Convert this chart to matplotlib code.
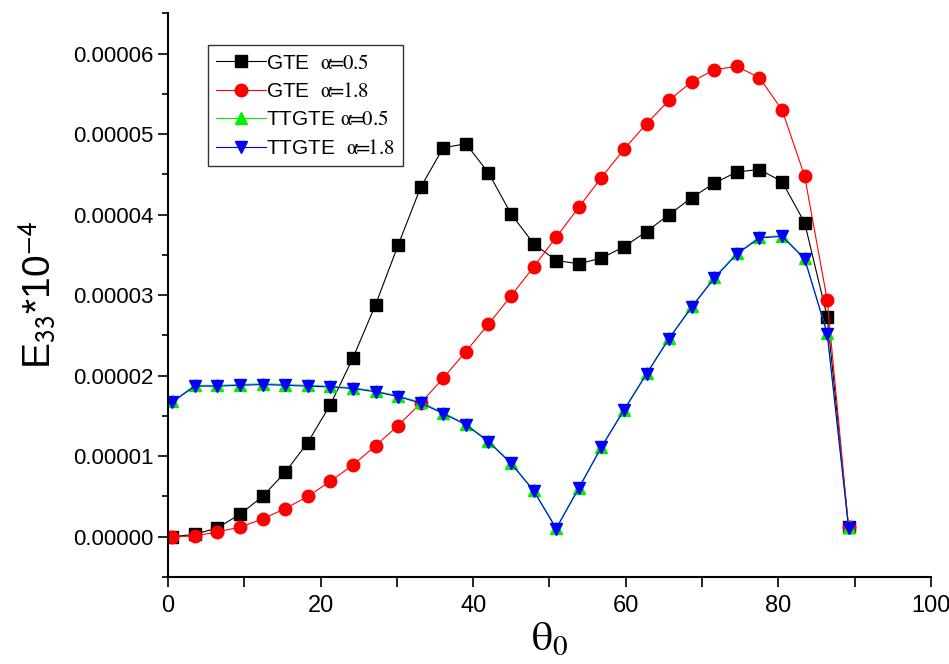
import matplotlib
matplotlib.use("Agg")
import matplotlib.pyplot as plt
from matplotlib.ticker import MultipleLocator, FormatStrFormatter

plt.rcParams['mathtext.fontset'] = 'stix'

# theta_0 in degrees
theta = [0.56, 3.52, 6.48, 9.44, 12.4, 15.36, 18.32, 21.28, 24.24, 27.2,
         30.16, 33.12, 36.08, 39.04, 42.0, 44.96, 47.92, 50.88, 53.84, 56.8,
         59.76, 62.72, 65.68, 68.64, 71.6, 74.56, 77.52, 80.48, 83.44, 86.4,
         89.2]

gte_05 = [0.00, 0.03, 0.11, 0.28, 0.50, 0.80, 1.17, 1.64, 2.22, 2.88,
          3.62, 4.34, 4.83, 4.88, 4.52, 4.01, 3.64, 3.43, 3.39, 3.46,
          3.60, 3.79, 4.00, 4.21, 4.39, 4.53, 4.56, 4.41, 3.90, 2.73,
          0.12]
gte_18 = [0.00, 0.01, 0.06, 0.12, 0.22, 0.35, 0.50, 0.69, 0.89, 1.13,
          1.38, 1.66, 1.97, 2.30, 2.64, 2.99, 3.35, 3.72, 4.09, 4.46,
          4.81, 5.13, 5.42, 5.65, 5.80, 5.84, 5.70, 5.30, 4.48, 2.94,
          0.12]
ttgte_05 = [1.68, 1.88, 1.88, 1.89, 1.90, 1.89, 1.88, 1.87, 1.85, 1.81,
            1.75, 1.67, 1.54, 1.40, 1.19, 0.92, 0.58, 0.11, 0.61, 1.12,
            1.58, 2.03, 2.47, 2.86, 3.22, 3.52, 3.72, 3.74, 3.46, 2.53,
            0.12]
ttgte_18 = [1.67, 1.87, 1.87, 1.88, 1.89, 1.88, 1.87, 1.86, 1.84, 1.80,
            1.74, 1.66, 1.53, 1.39, 1.18, 0.91, 0.57, 0.10, 0.60, 1.11,
            1.57, 2.02, 2.46, 2.85, 3.21, 3.51, 3.71, 3.73, 3.45, 2.52,
            0.11]

scale = 1e-5

fig = plt.figure(figsize=(9.49, 6.64), dpi=100)
ax = fig.add_axes([0.177, 0.131, 0.804, 0.849])

ax.plot(theta, [v * scale for v in gte_05], '-s', color='black', lw=0.8,
        ms=8, label='GTE  $\\mathrm{\\alpha}\\!\\!=\\!\\!\\mathrm{0.5}$')
ax.plot(theta, [v * scale for v in gte_18], '-o', color='red', lw=0.8,
        ms=9, label='GTE  $\\mathrm{\\alpha}\\!\\!=\\!\\!\\mathrm{1.8}$')
ax.plot(theta, [v * scale for v in ttgte_05], '-^', color='#00ee00', lw=0.8,
        ms=9, label='TTGTE $\\mathrm{\\alpha}\\!\\!=\\!\\!\\mathrm{0.5}$')
ax.plot(theta, [v * scale for v in ttgte_18], '-v', color='blue', lw=0.8,
        ms=9, label='TTGTE  $\\mathrm{\\alpha}\\!\\!=\\!\\!\\mathrm{1.8}$')

ax.set_xlim(0, 100)
ax.set_ylim(-0.000005, 0.000065)
ax.xaxis.set_major_locator(MultipleLocator(20))
ax.xaxis.set_minor_locator(MultipleLocator(10))
ax.yaxis.set_major_locator(MultipleLocator(0.00001))
ax.yaxis.set_minor_locator(MultipleLocator(0.000005))
ax.yaxis.set_major_formatter(FormatStrFormatter('%.5f'))

for s in ['top', 'right']:
    ax.spines[s].set_visible(False)
for s in ['left', 'bottom']:
    ax.spines[s].set_linewidth(1.5)

ax.tick_params(axis='y', which='major', direction='out', length=7, width=1.2,
               labelsize=16)
ax.tick_params(axis='y', which='minor', direction='out', length=4, width=1.2)
ax.tick_params(axis='x', which='both', direction='out', length=7, width=1.2,
               labelsize=17, pad=6)
for lab in ax.get_yticklabels():
    lab.set_family(['Liberation Sans', 'DejaVu Sans'])
for lab in ax.get_xticklabels():
    lab.set_family(['Liberation Sans Narrow', 'Liberation Sans', 'DejaVu Sans'])

ax.set_ylabel('E$_{\\mathsf{33}}$*10$^{\\mathsf{-4}}$', fontsize=28,
              family=['Liberation Sans', 'DejaVu Sans'], labelpad=10)
ax.set_xlabel('$\\mathrm{\\theta}_0$', fontsize=30, labelpad=0)

leg = ax.legend(loc='upper left', bbox_to_anchor=(0.052, 0.943),
                frameon=True, fancybox=False, edgecolor='black',
                handlelength=2.4, handletextpad=0.0, borderpad=0.4,
                labelspacing=0.45, borderaxespad=0.0,
                prop={'family': ['Liberation Sans', 'DejaVu Sans'], 'size': 15})
leg.get_frame().set_linewidth(1.0)

fig.savefig('out.png', dpi=100)
